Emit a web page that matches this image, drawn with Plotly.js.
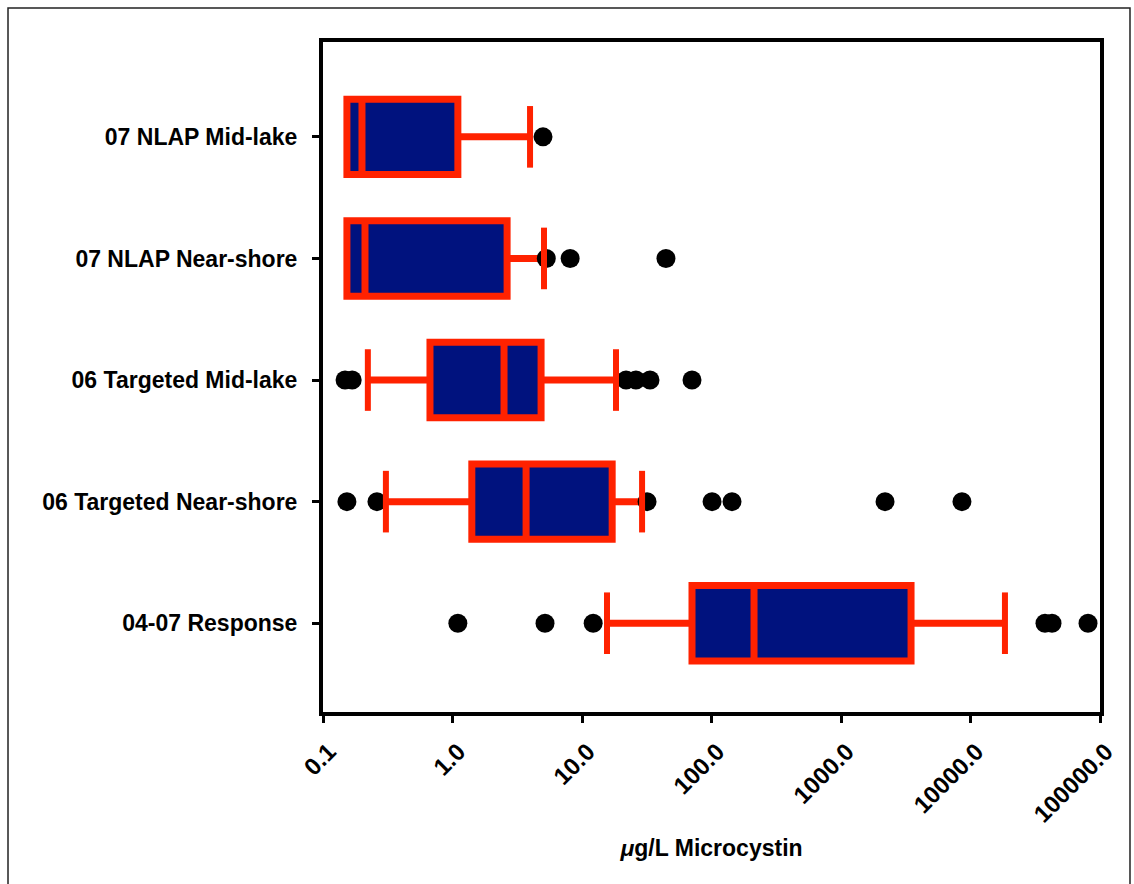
<!DOCTYPE html>
<html>
<head>
<meta charset="utf-8">
<script src="https://cdn.plot.ly/plotly-3.0.1.min.js"></script>
<style>html,body{margin:0;padding:0;background:#fff;}#chart{width:1134px;height:884px;}</style>
</head>
<body>
<div id="chart"></div>
<script>
// Categories (top to bottom)
const categories = ["07 NLAP Mid-lake", "07 NLAP Near-shore", "06 Targeted Mid-lake", "06 Targeted Near-shore", "04-07 Response"];
// Box statistics (µg/L)
const q1Values     = [0.153, 0.153, 0.67, 1.41, 70.7];
const medianValues = [0.20, 0.211, 2.5, 3.70, 213];
const q3Values     = [1.10, 2.64, 4.83, 17.1, 3474];
const lowerWhisker = [0.153, 0.153, 0.222, 0.306, 15.6];
const upperWhisker = [3.97, 5.09, 18.3, 29.1, 18450];
// Outliers
const outlierCategory = [
  "07 NLAP Mid-lake",
  "07 NLAP Near-shore", "07 NLAP Near-shore", "07 NLAP Near-shore",
  "06 Targeted Mid-lake", "06 Targeted Mid-lake", "06 Targeted Mid-lake", "06 Targeted Mid-lake", "06 Targeted Mid-lake", "06 Targeted Mid-lake",
  "06 Targeted Near-shore", "06 Targeted Near-shore", "06 Targeted Near-shore", "06 Targeted Near-shore", "06 Targeted Near-shore", "06 Targeted Near-shore", "06 Targeted Near-shore",
  "04-07 Response", "04-07 Response", "04-07 Response", "04-07 Response", "04-07 Response", "04-07 Response"
];
const outlierValues = [
  5.0,
  5.3, 8.1, 44.5,
  0.148, 0.168, 21.9, 26.1, 33.5, 70.7,
  0.153, 0.261, 31.8, 101, 144, 2188, 8590,
  1.10, 5.18, 12.2, 37600, 42600, 80800
];
// Axis ticks
const xTickVals = [0.1, 1, 10, 100, 1000, 10000, 100000];
const xTickText = ["0.1", "1.0", "10.0", "100.0", "1000.0", "10000.0", "100000.0"];

const RED = "#ff2200";
const NAVY = "#00127e";
const FONT = "Liberation Sans, Arial, Helvetica, sans-serif";

// caps: skip lower cap where whisker equals Q1
const capX = [], capY = [];
categories.forEach((c, i) => {
  if (lowerWhisker[i] < q1Values[i]) { capX.push(lowerWhisker[i]); capY.push(c); }
  capX.push(upperWhisker[i]); capY.push(c);
});

const traces = [
  {
    type: "scatter", mode: "markers",
    x: outlierValues, y: outlierCategory,
    marker: {color: "#000", size: 19, symbol: "circle"},
    hoverinfo: "x+y", showlegend: false, cliponaxis: false
  },
  {
    type: "box", orientation: "h",
    y: categories,
    q1: q1Values, median: medianValues, q3: q3Values,
    lowerfence: lowerWhisker, upperfence: upperWhisker,
    fillcolor: NAVY,
    line: {color: RED, width: 7},
    whiskerwidth: 0,
    width: 0.62,
    boxpoints: false,
    showlegend: false
  },
  {
    type: "scatter", mode: "markers",
    x: capX, y: capY,
    marker: {symbol: "line-ns", size: 44, line: {color: RED, width: 6}, color: RED},
    hoverinfo: "skip", showlegend: false, cliponaxis: false
  }
];

const layout = {
  width: 1134, height: 884,
  margin: {l: 323, r: 34, t: 42, b: 172},
  paper_bgcolor: "#fff", plot_bgcolor: "#fff",
  showlegend: false,
  xaxis: {
    type: "log",
    range: [-1, 5],
    tickvals: xTickVals, ticktext: xTickText,
    tickangle: -45,
    tickfont: {family: FONT, size: 24, color: "#000", weight: "bold"},
    ticks: "outside", ticklen: 7, tickwidth: 3, tickcolor: "#000",
    ticklabelstandoff: 5, ticklabelshift: 6,
    showline: true, linewidth: 4, linecolor: "#000", mirror: true,
    showgrid: false, zeroline: false,
    title: {text: "<i>μ</i>g/L Microcystin", font: {family: FONT, size: 23, color: "#000", weight: "bold"}, standoff: 14}
  },
  yaxis: {
    type: "category",
    categoryorder: "array", categoryarray: categories,
    range: [4.73, -0.78],
    tickfont: {family: FONT, size: 23, color: "#000", weight: "bold"},
    ticks: "outside", ticklen: 7, tickwidth: 3, tickcolor: "#000",
    ticklabelstandoff: 10,
    showline: true, linewidth: 4, linecolor: "#000", mirror: true,
    showgrid: false, zeroline: false
  },
  shapes: [{
    type: "rect", xref: "paper", yref: "paper",
    x0: -0.4054, x1: 1.0386, y0: -0.27, y1: 1.0507,
    line: {color: "#222", width: 1.5}, fillcolor: "rgba(0,0,0,0)", layer: "below"
  }]
};

Plotly.newPlot("chart", traces, layout, {displayModeBar: false, staticPlot: true});
</script>
</body>
</html>
